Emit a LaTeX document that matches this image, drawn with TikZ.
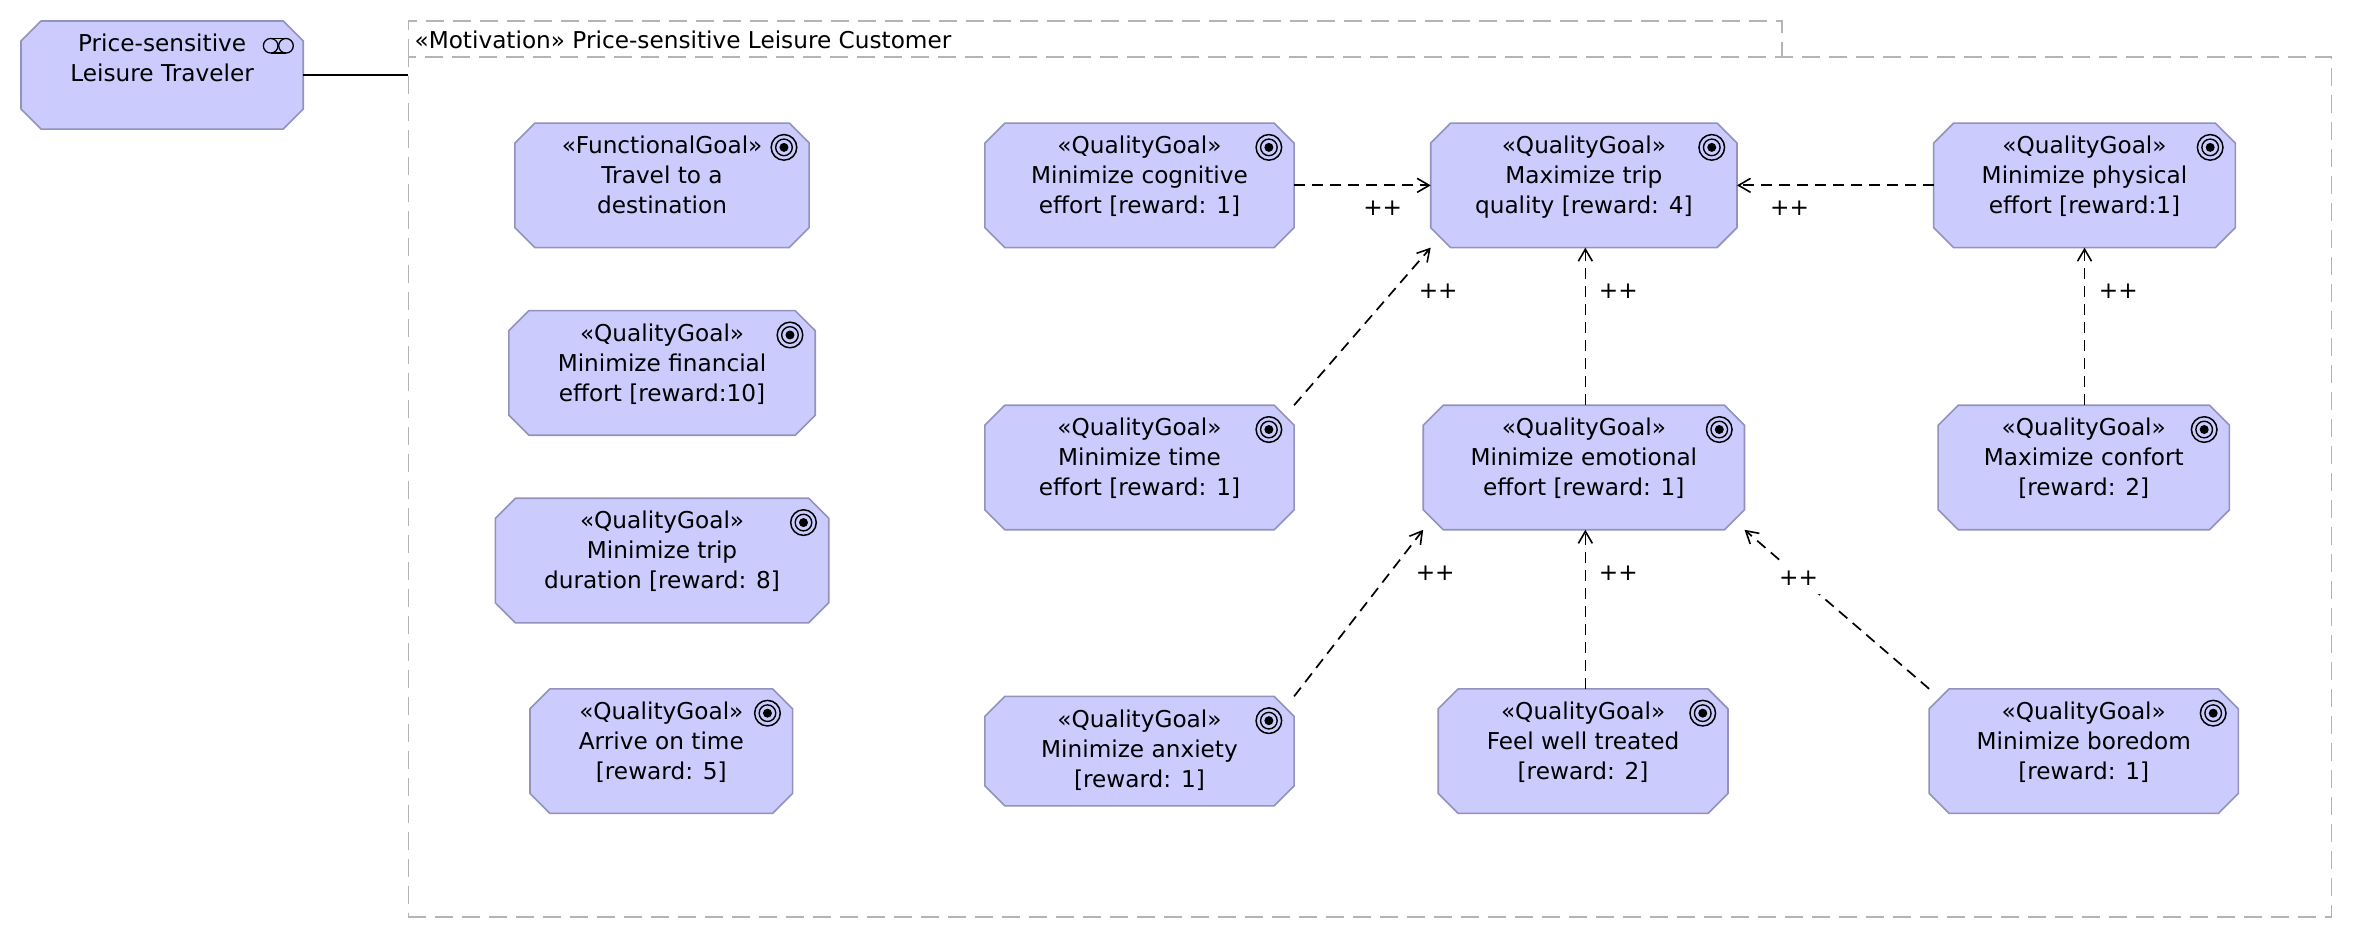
\documentclass[tikz,border=0pt]{standalone}
\usepackage{fontspec}
\setmainfont{DejaVu Sans}
\usetikzlibrary{arrows.meta}
\definecolor{goalfill}{HTML}{CBCBFD}
\definecolor{goalline}{HTML}{9292BC}
\definecolor{pkgline}{HTML}{B4B4B4}
\newcommand{\lblfont}{\fontsize{23.2}{30}\selectfont}
\tikzset{
  x=1.50128pt,y=-1.5008pt,
  goalanchor/.style={rectangle,inner sep=0pt,outer sep=0pt},
  goalshape/.style={draw=goalline,fill=goalfill,line width=1.6pt,line join=round},
  goaltext/.style={anchor=north,align=center,font=\lblfont,inner sep=0pt,text=black},
  influence/.style={draw=black,line width=1.7pt,dash pattern=on 11pt off 7pt,
    -{Straight Barb[length=12pt,width=14pt,line width=1.6pt]}},
  plus/.style={font=\lblfont,inner sep=0pt,text=black},
  pkgedge/.style={draw=pkgline,line width=1.5pt,dash pattern=on 18pt off 9pt},
}
\newcommand{\goalnode}[6]{%
  \pgfmathsetmacro{\gw}{(#4-#2)*1.50128}%
  \pgfmathsetmacro{\gh}{(#5-#3)*1.5008}%
  \pgfmathsetmacro{\gcx}{(#2+#4)/2}%
  \pgfmathsetmacro{\gcy}{(#3+#5)/2}%
  \node[goalanchor,minimum width=\gw pt,minimum height=\gh pt] (#1) at (\gcx,\gcy) {};
  \path[goalshape] ([xshift=20pt]#1.north west) -- ([xshift=-20pt]#1.north east)
     -- ([yshift=-20pt]#1.north east) -- ([yshift=20pt]#1.south east)
     -- ([xshift=-20pt]#1.south east) -- ([xshift=20pt]#1.south west)
     -- ([yshift=20pt]#1.south west) -- ([yshift=-20pt]#1.north west) -- cycle;
  \pgfmathsetmacro{\gty}{#3+8.6}%
  \node[goaltext] (#1-label) at (\gcx,\gty) {#6};
}
\newcommand{\targeticon}[2]{%
  \pgfmathsetmacro{\ix}{#1-16.8}%
  \pgfmathsetmacro{\iy}{#2+16.2}%
  \draw[black,line width=1.5pt] (\ix,\iy) circle[radius=12.8pt];
  \draw[black,line width=1.4pt] (\ix,\iy) circle[radius=8.3pt];
  \fill[black] (\ix,\iy) circle[radius=4.5pt];
}
\newcommand{\qgoal}[6]{\goalnode{#1}{#2}{#3}{#4}{#5}{«QualityGoal»\\#6}\targeticon{#4}{#3}}
\begin{document}
\begin{tikzpicture}
\path[use as bounding box,fill=white] (0,0) rectangle (1568,625);
% package
\node[rectangle,inner sep=0pt,outer sep=0pt,pkgedge,minimum width=1923pt,minimum height=860pt] (pkg) at (912.5,324.5) {};
\node[rectangle,inner sep=0pt,outer sep=0pt,minimum width=1373.6pt,minimum height=36pt] (tab) at (729.5,26) {};
\draw[pkgedge] (tab.south west) -- (tab.north west) -- (tab.north east) -- (tab.south east);
\node[font=\lblfont,anchor=west,inner sep=0pt] (tabtext) at (276,26.5) {«Motivation» Price-sensitive Leisure Customer};
% actor
\goalnode{actor}{14}{14}{202}{86}{Price-sensitive\\Leisure Traveler}
\draw[black,line width=1.3pt] (180.3,30.5) circle[radius=7.3pt];
\draw[black,line width=1.3pt] (190.5,30.5) circle[radius=7.3pt];
\draw[black,line width=1.3pt] (180.3,25.6) -- (190.5,25.6);
\draw[black,line width=1.3pt] (180.3,35.4) -- (190.5,35.4);
\draw[black,line width=1.6pt] (actor.east) -- (actor.east -| pkg.west);
% left column
\goalnode{fun}{343}{82}{539}{165}{«FunctionalGoal»\\Travel to a\\destination}\targeticon{539}{82}
\qgoal{fin}{339}{207}{543}{290}{Minimize financial\\effort [reward:10]}
\qgoal{dur}{330}{332}{552}{415}{Minimize trip\\duration [reward: 8]}
\qgoal{arr}{353}{459}{528}{542}{Arrive on time\\{}[reward: 5]}
% middle
\qgoal{cog}{656}{82}{862}{165}{Minimize cognitive\\effort [reward: 1]}
\qgoal{tim}{656}{270}{862}{353}{Minimize time\\effort [reward: 1]}
\qgoal{anx}{656}{464}{862}{537}{Minimize anxiety\\{}[reward: 1]}
\qgoal{max}{953}{82}{1157}{165}{Maximize trip\\quality [reward: 4]}
\qgoal{emo}{948}{270}{1162}{353}{Minimize emotional\\effort [reward: 1]}
\qgoal{fee}{958}{459}{1151}{542}{Feel well treated\\{}[reward: 2]}
\qgoal{phy}{1288}{82}{1489}{165}{Minimize physical\\effort [reward:1]}
\qgoal{com}{1291}{270}{1485}{353}{Maximize confort\\{}[reward: 2]}
\qgoal{bor}{1285}{459}{1491}{542}{Minimize boredom\\{}[reward: 1]}
% connectors
\draw[influence] (cog.east) -- (max.west);
\draw[influence] (phy.west) -- (max.east);
\draw[influence] (tim.north east) -- (max.south west);
\draw[influence] ([xshift=1.5pt]emo.north) -- ([xshift=1.5pt]max.south);
\draw[influence] (com.north -| phy.south) -- (phy.south);
\draw[influence] (anx.north east) -- (emo.south west);
\draw[influence] ([xshift=1.5pt]fee.north -| emo.south) -- ([xshift=1.5pt]emo.south);
\draw[influence] (bor.north west) -- (emo.south east);
% labels
\node[plus] (p1) at (921,139) {++};
\node[plus] (p2) at (1192,139) {++};
\node[plus] (p3) at (958,194) {++};
\node[plus] (p4) at (1078,194) {++};
\node[plus] (p5) at (1411,194) {++};
\node[plus] (p6) at (956,382) {++};
\node[plus] (p7) at (1078,382) {++};
\node[plus,fill=white,inner xsep=5pt,inner ysep=9pt] (p8) at (1198,385) {++};
\end{tikzpicture}
\end{document}
